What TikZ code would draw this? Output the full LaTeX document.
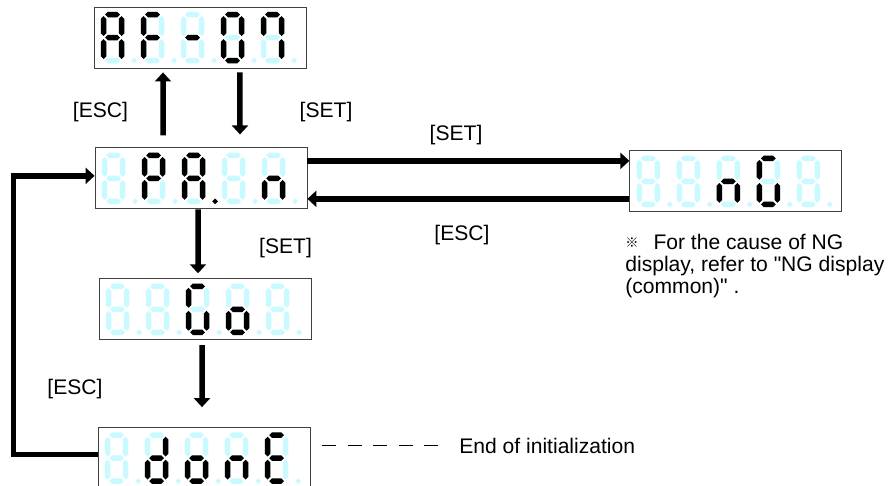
\documentclass[tikz,border=0pt]{standalone}
\usepackage{fontspec}
\setmainfont{Liberation Sans}[Ligatures=TeXOff]
\newfontfamily\cjkmark{Noto Sans CJK JP}
\usepackage{tikz}
\usetikzlibrary{arrows.meta,positioning,calc}
\definecolor{ledoff}{RGB}{200,250,255}

% five seven-segment digits in a panel node; #2 lists the lit parts as digit+segment
\newcommand{\ledpanel}[2]{%
  \foreach \k in {1,...,5}{%
    \begin{scope}[shift={(#1.north west)},shift={(40*\k-30,8)}]
      \foreach \s/\xa/\ya/\xb/\yb in {a/1.6/0/16.4/0,b/18/1.6/18/21.4,c/18/24.6/18/44.4,
          d/1.6/46/16.4/46,e/0/24.6/0/44.4,f/0/1.6/0/21.4,g/1.6/23/16.4/23,
          p/27.6/46/33.4/46}{%
        \coordinate (#1-\k\s-s) at (\xa,\ya);
        \coordinate (#1-\k\s-e) at (\xb,\yb);
        \fill[seg off] (#1-\k\s-s) to (#1-\k\s-e);}
    \end{scope}}
  \foreach \ds in {#2}{\fill[seg on] (#1-\ds-s) to (#1-\ds-e);}}

\begin{document}
\begin{tikzpicture}[x=0.02cm,y=-0.02cm,font=\fontsize{12}{12.4}\selectfont,
   panel/.style={draw=black!75,line width=0.5pt,fill=white,minimum width=4.24cm,
                 minimum height=1.22cm,inner sep=0pt},
   led seg/.style={to path={-- ($(\tikztostart)!0.0778cm!45:(\tikztotarget)$)
       -- ($(\tikztotarget)!0.0778cm!-45:(\tikztostart)$) -- (\tikztotarget)
       -- ($(\tikztotarget)!0.0778cm!45:(\tikztostart)$)
       -- ($(\tikztostart)!0.0778cm!-45:(\tikztotarget)$) -- cycle}},
   seg off/.style={led seg,fill=ledoff},
   seg on/.style={led seg,fill=black},
   arr/.style={line width=0.11cm,-{Triangle[width=0.32cm,length=0.18cm]}},
   lbl/.style={inner sep=0pt},
   leader/.style={line width=0.9pt,dash pattern=on 0.28cm off 0.23cm}]
  \useasboundingbox (0,0) rectangle (896,486);
  \node[panel] (d1) at (200,37.5) {};
  \node[panel,below=1.58cm of d1,xshift=0.02cm] (d2) {};
  \node[panel,right=6.44cm of d2,yshift=-0.06cm] (d3) {};
  \node[panel,below=1.38cm of d2,xshift=0.08cm] (d4) {};
  \node[panel,below=1.74cm of d4,xshift=-0.02cm,minimum height=1.26cm] (d5) {};
  \ledpanel{d1}{1a,1b,1c,1e,1f,1g,2a,2e,2f,2g,3g,4a,4b,4c,4d,4e,4f,5a,5b,5c,5f}
  \ledpanel{d2}{2a,2b,2e,2f,2g,3a,3b,3c,3e,3f,3g,3p,5c,5e,5g}
  \ledpanel{d3}{3c,3e,3g,4a,4c,4d,4e,4f}
  \ledpanel{d4}{3a,3c,3d,3e,3f,4c,4d,4e,4g}
  \ledpanel{d5}{2b,2c,2d,2e,2g,3c,3d,3e,3g,4c,4e,4g,5a,5d,5e,5f,5g}
  % transitions
  \draw[arr] ([xshift=-0.76cm,yshift=0.24cm]d2.north) -- ([xshift=-0.74cm,yshift=-0.08cm]d1.south);
  \draw[arr] ([xshift=0.8cm,yshift=-0.08cm]d1.south) -- ([xshift=0.78cm,yshift=0.26cm]d2.north);
  \draw[arr] ([yshift=0.35cm]d2.east) -- ([yshift=0.41cm]d3.west);
  \draw[arr] ([yshift=-0.35cm]d3.west) -- ([yshift=-0.41cm]d2.east);
  \draw[arr] ([xshift=-0.06cm]d2.south) -- ([xshift=-0.14cm,yshift=0.1cm]d4.north);
  \draw[arr] ([xshift=-0.06cm,yshift=-0.1cm]d4.south) -- ([xshift=-0.04cm,yshift=0.4cm]d5.north);
  \draw[arr,line join=miter] ([yshift=0.09cm]d5.west) -- ++(-84,0) |- ([yshift=0.05cm]d2.west);
  % key labels
  \node[lbl] (escup) at (100.5,112) {[ESC]};
  \node[lbl] (setdown) at (326,112.5) {[SET]};
  \node[lbl] (setng) at (456,135) {[SET]};
  \node[lbl] (escng) at (462,235) {[ESC]};
  \node[lbl] (setgo) at (285.5,248) {[SET]};
  \node[lbl] (escloop) at (75,389) {[ESC]};
  \node[lbl,anchor=west] (endtxt) at (459,445.5) {End of initialization};
  \draw[leader,shorten <=0.24cm,shorten >=0.42cm] (d5.east |- endtxt.west) -- (endtxt.west);
  \node[lbl,anchor=north west,align=left] (ngnote) at (625,234)
    {\raisebox{1.2pt}{\cjkmark\fontsize{7.5}{7.5}\selectfont ※}\hspace{0.3cm}For the cause of NG\\
     display, refer to "NG display\\(common)" .};
\end{tikzpicture}
\end{document}
